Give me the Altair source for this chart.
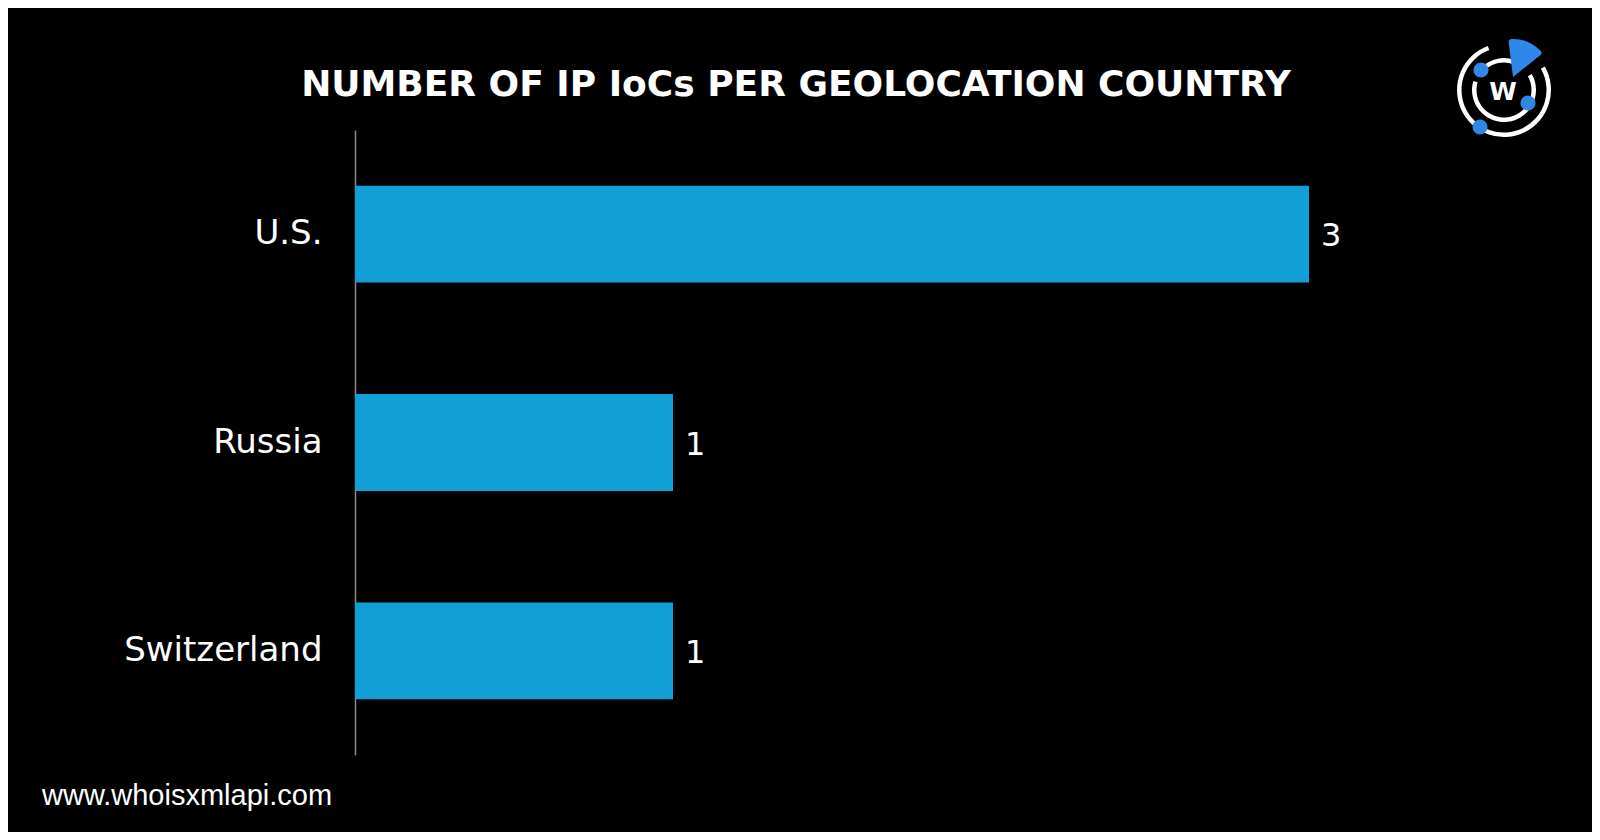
import altair as alt
import pandas as pd

countries = ["U.S.", "Russia", "Switzerland"]
counts = [3, 1, 1]
title_text = "NUMBER OF IP IoCs PER GEOLOCATION COUNTRY"
footer_text = "www.whoisxmlapi.com"

BAR = "#129fd6"
LOGO_BLUE = "#2f87e8"
FONT = "DejaVu Sans"

df = pd.DataFrame({"country": countries, "count": counts})

base = alt.Chart(df)

bars = base.mark_bar(color=BAR).encode(
    y=alt.Y(
        "country:N",
        sort=countries,
        title=None,
        scale=alt.Scale(paddingInner=0.535, paddingOuter=0.2675),
        axis=alt.Axis(
            domainColor="#8a8a8a",
            domainWidth=1.5,
            ticks=False,
            labelColor="white",
            labelFontSize=34,
            labelFont=FONT,
            labelPadding=33,
            labelLimit=320,
            grid=False,
        ),
    ),
    x=alt.X("count:Q", scale=alt.Scale(domain=[0, 3]), axis=None),
)

values = base.mark_text(
    align="left", baseline="middle", dx=12, dy=2, fontSize=32, font=FONT, color="white"
).encode(
    y=alt.Y("country:N", sort=countries),
    x=alt.X("count:Q"),
    text="count:Q",
)

one = pd.DataFrame({"k": [0]})

title = alt.Chart(one).mark_text(
    text=title_text, align="center", baseline="middle", fontSize=36,
    fontWeight="bold", font="DejaVu Sans", color="white",
).encode(x=alt.value(441), y=alt.value(-45))

footer = alt.Chart(one).mark_text(
    text=footer_text, align="left", baseline="middle", fontSize=29,
    font="Liberation Sans", color="white",
).encode(x=alt.value(-313), y=alt.value(666))

# logo (decoration)
outer = alt.Chart(one).mark_arc(color="white", radius=47, radius2=42.5,
                                theta=1.05, theta2=5.93).encode(
    x=alt.value(1149), y=alt.value(-40))
inner1 = alt.Chart(one).mark_arc(color="white", radius=32, radius2=27.5,
                                 theta=5.53, theta2=6.63).encode(
    x=alt.value(1149), y=alt.value(-40))
inner2 = alt.Chart(one).mark_arc(color="white", radius=32, radius2=27.5,
                                 theta=1.05, theta2=5.0).encode(
    x=alt.value(1149), y=alt.value(-40))
wedge = alt.Chart(one).mark_arc(color=LOGO_BLUE, radius=38, theta=6.16,
                                theta2=7.18, cornerRadius=3).encode(
    x=alt.value(1158), y=alt.value(-53))
dot_df = pd.DataFrame({"px": [1125, 1126, 1173], "py": [-3, -60, -27]})
dots = alt.Chart(dot_df).mark_point(filled=True, color=LOGO_BLUE, size=230,
                                    opacity=1, shape="circle").encode(
    x=alt.X("px:Q", scale=None), y=alt.Y("py:Q", scale=None))
wtext = alt.Chart(one).mark_text(text="W", fontSize=25, fontWeight="bold",
                                 font=FONT, color="white", baseline="middle").encode(
    x=alt.value(1148), y=alt.value(-38))

chart = alt.layer(bars, values, title, footer, outer, inner1, inner2, wedge, dots, wtext).properties(
    width=954,
    height=625,
    background="black",
    padding={"left": 347, "top": 122, "right": 283, "bottom": 77},
    autosize=alt.AutoSizeParams(type="none"),
).configure_view(stroke=None)

chart.save("out.html", embed_options={"renderer": "svg", "actions": False})
